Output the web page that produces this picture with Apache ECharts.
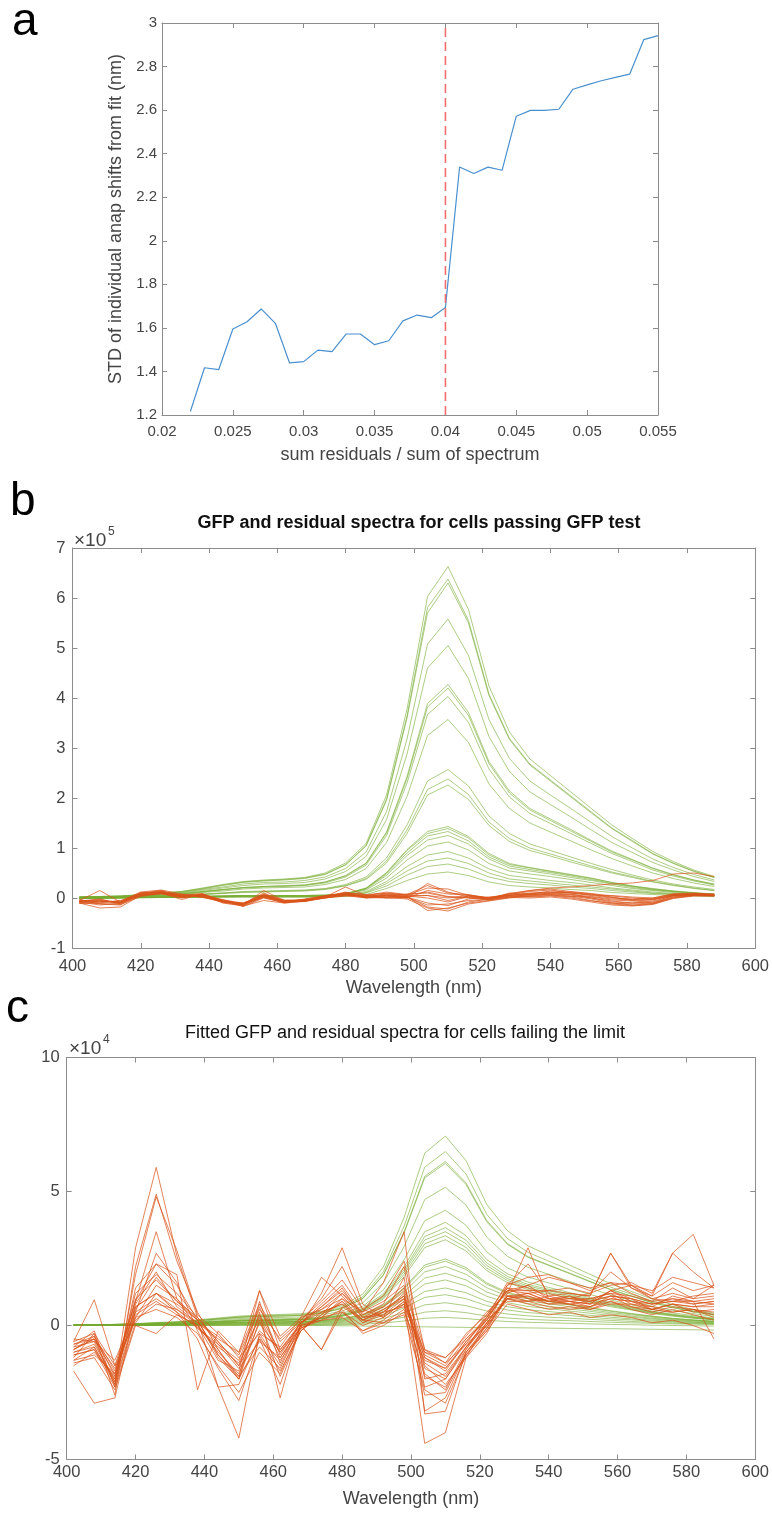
<!DOCTYPE html>
<html>
<head>
<meta charset="utf-8">
<script src="https://cdn.jsdelivr.net/npm/echarts@6/dist/echarts.min.js"></script>
<style>
  html, body { margin: 0; padding: 0; background: #ffffff; }
  #chart { width: 772px; height: 1515px; }
</style>
</head>
<body>
<div id="chart"></div>
<script>
// ---------- panel a: spread of anap shifts vs. residual fraction ----------
const residualRatio = [0.022,0.023,0.024,0.025,0.026,0.027,0.028,0.029,0.030,0.031,0.032,0.033,0.034,0.035,0.036,0.037,0.038,0.039,0.040,0.041,0.042,0.043,0.044,0.045,0.046,0.047,0.048,0.049,0.050,0.051,0.052,0.053,0.054,0.055];
const shiftStd = [1.216,1.417,1.408,1.595,1.628,1.687,1.621,1.439,1.445,1.498,1.491,1.572,1.572,1.523,1.541,1.632,1.659,1.647,1.694,2.339,2.309,2.338,2.324,2.572,2.599,2.599,2.604,2.696,2.716,2.735,2.750,2.765,2.924,2.942];
const ratioLimit = 0.04;
const ratioTicks = ['0.02','0.025','0.03','0.035','0.04','0.045','0.05','0.055'];
const stdTicks = ['1.2','1.4','1.6','1.8','2','2.2','2.4','2.6','2.8','3'];

// ---------- panels b and c: spectra on a shared wavelength grid ----------
const wavelength = [402,408,414,420,426,432,438,444,450,456,462,468,474,480,486,492,498,504,510,516,522,528,534,540,546,552,558,564,570,576,582,588];
const wavelengthTicks = ['400','420','440','460','480','500','520','540','560','580','600'];
const passTicks = ['-1','0','1','2','3','4','5','6','7'];
const failTicks = ['-5','0','5','10'];

// panel b, GFP spectra (units of 1e5)
const passGfp = [
  [0.02,0.03,0.04,0.07,0.1,0.13,0.2,0.27,0.33,0.36,0.38,0.41,0.5,0.7,1.09,2.06,3.78,6.03,6.63,5.77,4.24,3.32,2.78,2.45,2.12,1.79,1.46,1.19,0.93,0.73,0.56,0.43],
  [0.02,0.03,0.04,0.06,0.1,0.13,0.19,0.26,0.32,0.35,0.37,0.4,0.48,0.67,1.05,1.98,3.64,5.81,6.38,5.55,4.08,3.19,2.68,2.36,2.04,1.72,1.4,1.15,0.89,0.7,0.54,0.41],
  [0.02,0.03,0.04,0.06,0.09,0.12,0.18,0.25,0.31,0.34,0.36,0.39,0.47,0.66,1.04,1.95,3.6,5.7,6.3,5.5,4.05,3.17,2.66,2.34,2.02,1.7,1.39,1.13,0.88,0.69,0.53,0.41],
  [0.02,0.02,0.03,0.06,0.08,0.11,0.17,0.22,0.28,0.31,0.32,0.35,0.42,0.59,0.92,1.73,3.18,5.08,5.58,4.85,3.57,2.79,2.34,2.06,1.79,1.51,1.23,1.0,0.78,0.61,0.47,0.36],
  [0.02,0.02,0.03,0.05,0.08,0.1,0.15,0.2,0.25,0.28,0.29,0.31,0.38,0.53,0.83,1.57,2.88,4.6,5.05,4.39,3.23,2.53,2.12,1.87,1.62,1.36,1.11,0.91,0.71,0.56,0.43,0.33],
  [0.01,0.02,0.03,0.04,0.06,0.09,0.13,0.17,0.21,0.23,0.25,0.26,0.32,0.45,0.7,1.32,2.43,3.89,4.27,3.71,2.73,2.14,1.79,1.58,1.37,1.15,0.94,0.77,0.6,0.47,0.36,0.28],
  [0.01,0.02,0.03,0.04,0.06,0.08,0.13,0.17,0.21,0.23,0.24,0.26,0.32,0.44,0.69,1.3,2.39,3.82,4.2,3.65,2.69,2.1,1.76,1.55,1.34,1.13,0.92,0.76,0.59,0.46,0.36,0.27],
  [0.01,0.02,0.02,0.04,0.06,0.08,0.12,0.16,0.2,0.22,0.23,0.25,0.3,0.42,0.66,1.25,2.3,3.67,4.03,3.51,2.58,2.02,1.69,1.49,1.29,1.09,0.89,0.73,0.56,0.44,0.34,0.26],
  [0.01,0.01,0.02,0.04,0.05,0.07,0.11,0.14,0.18,0.2,0.21,0.22,0.27,0.37,0.59,1.11,2.03,3.25,3.57,3.11,2.28,1.79,1.5,1.32,1.14,0.96,0.79,0.64,0.5,0.39,0.3,0.23],
  [0.01,0.01,0.02,0.03,0.04,0.05,0.08,0.1,0.13,0.14,0.15,0.16,0.19,0.27,0.42,0.8,1.46,2.34,2.57,2.24,1.64,1.29,1.08,0.95,0.82,0.69,0.57,0.46,0.36,0.28,0.22,0.17],
  [0.01,0.01,0.01,0.02,0.04,0.05,0.07,0.1,0.12,0.13,0.14,0.15,0.18,0.25,0.39,0.74,1.36,2.17,2.38,2.07,1.52,1.19,1.0,0.88,0.76,0.64,0.52,0.43,0.33,0.26,0.2,0.15],
  [0.01,0.01,0.01,0.02,0.03,0.05,0.07,0.09,0.11,0.12,0.13,0.14,0.17,0.24,0.37,0.7,1.29,2.06,2.26,1.97,1.45,1.13,0.95,0.84,0.72,0.61,0.5,0.41,0.32,0.25,0.19,0.15],
  [0,0,0.01,0.01,0.02,0.03,0.04,0.04,0.05,0.05,0.05,0.05,0.06,0.09,0.2,0.51,0.97,1.33,1.43,1.23,0.89,0.69,0.61,0.54,0.47,0.4,0.31,0.24,0.19,0.14,0.11,0.08],
  [0,0,0.01,0.01,0.02,0.03,0.03,0.04,0.05,0.05,0.05,0.05,0.06,0.08,0.19,0.5,0.95,1.29,1.39,1.2,0.86,0.67,0.6,0.53,0.46,0.39,0.31,0.24,0.18,0.14,0.1,0.08],
  [0,0,0.01,0.01,0.02,0.03,0.03,0.04,0.05,0.05,0.05,0.05,0.05,0.08,0.19,0.48,0.9,1.24,1.33,1.14,0.82,0.64,0.57,0.51,0.44,0.37,0.29,0.23,0.17,0.13,0.1,0.07],
  [0,0,0.01,0.01,0.02,0.02,0.03,0.04,0.04,0.04,0.04,0.04,0.05,0.08,0.18,0.45,0.85,1.16,1.25,1.08,0.78,0.6,0.54,0.48,0.41,0.35,0.28,0.21,0.16,0.13,0.09,0.07],
  [0,0,0.01,0.01,0.02,0.02,0.03,0.03,0.04,0.04,0.04,0.04,0.04,0.07,0.16,0.4,0.76,1.04,1.12,0.96,0.69,0.54,0.48,0.43,0.37,0.31,0.25,0.19,0.15,0.11,0.08,0.06],
  [0,0,0,0.01,0.01,0.02,0.02,0.03,0.03,0.03,0.03,0.03,0.04,0.06,0.13,0.33,0.63,0.86,0.93,0.8,0.58,0.45,0.4,0.35,0.31,0.26,0.2,0.16,0.12,0.09,0.07,0.05],
  [0,0,0,0.01,0.01,0.02,0.02,0.02,0.03,0.03,0.03,0.03,0.03,0.05,0.11,0.29,0.54,0.74,0.8,0.69,0.5,0.38,0.34,0.3,0.26,0.22,0.18,0.14,0.1,0.08,0.06,0.04],
  [0,0,0,0.01,0.01,0.01,0.02,0.02,0.02,0.02,0.02,0.02,0.03,0.04,0.1,0.24,0.46,0.63,0.68,0.58,0.42,0.33,0.29,0.26,0.22,0.19,0.15,0.12,0.09,0.07,0.05,0.04],
  [0,0,0,0,0.01,0.01,0.01,0.02,0.02,0.02,0.02,0.02,0.02,0.03,0.07,0.19,0.35,0.48,0.52,0.45,0.32,0.25,0.22,0.2,0.17,0.15,0.11,0.09,0.07,0.05,0.04,0.03]
];

// panel b, residual spectra (units of 1e5)
const passResidual = [
  [-0.05,0.15,-0.08,0.1,0.12,0.04,0.06,-0.06,-0.12,0.02,-0.07,-0.04,0.03,0.08,0.02,0.05,0.0,0.29,0.12,0.02,-0.02,0.05,0.1,0.12,0.1,0.05,0.0,-0.02,0.0,0.08,0.1,0.06],
  [-0.1,-0.2,-0.18,0.05,0.1,-0.03,0.08,-0.1,-0.16,-0.05,-0.1,-0.06,0.0,0.06,0.0,0.02,0.03,-0.25,-0.2,-0.1,-0.05,0.02,0.03,0.05,0.02,-0.05,-0.12,-0.15,-0.12,0.0,0.05,0.04],
  [-0.08,-0.05,-0.1,0.08,0.13,0.05,0.04,-0.05,-0.14,0.15,-0.05,-0.03,0.02,0.22,0.05,0.1,0.06,0.2,0.18,0.05,0.0,0.08,0.15,0.2,0.22,0.25,0.28,0.3,0.35,0.48,0.5,0.43],
  [-0.04,-0.08,-0.06,0.12,0.16,0.08,0.02,-0.08,-0.1,0.05,-0.08,-0.05,0.04,0.1,0.06,0.0,0.02,-0.1,-0.15,-0.02,0.02,0.06,0.05,0.08,0.06,0.0,-0.08,-0.1,-0.08,0.05,0.08,0.07],
  [-0.06,-0.02,-0.12,0.06,0.09,0.0,0.07,-0.04,-0.17,0.0,-0.09,-0.02,0.05,0.07,0.03,0.08,0.05,0.05,-0.05,0.04,-0.03,0.02,0.08,0.14,0.12,0.08,0.02,-0.05,-0.1,0.03,0.06,0.05],
  [-0.09,-0.1,-0.05,0.04,0.11,0.07,0.05,-0.03,-0.13,0.03,-0.06,-0.07,0.01,0.05,0.04,0.03,0.08,0.1,0.02,0.0,-0.04,0.04,0.02,0.04,0.0,-0.06,-0.1,-0.12,-0.1,0.02,0.06,0.05],
  [-0.07,-0.06,-0.09,0.09,0.14,0.02,0.08,-0.07,-0.11,0.08,-0.04,-0.06,0.03,0.12,0.0,0.06,0.02,-0.18,-0.22,-0.08,-0.02,0.1,0.07,0.06,0.03,0.02,-0.04,-0.06,-0.04,0.06,0.07,0.06],
  [-0.03,-0.12,-0.14,0.07,0.08,0.03,0.03,-0.09,-0.15,0.06,-0.09,-0.03,0.04,0.09,0.02,0.04,0.0,0.15,0.08,0.06,0.01,0.07,0.13,0.16,0.1,0.06,0.05,0.02,0.0,0.08,0.09,0.08],
  [-0.11,-0.08,-0.07,0.11,0.1,0.06,0.01,-0.06,-0.13,0.1,-0.07,-0.05,0.0,0.08,0.03,0.07,0.04,0.0,-0.08,0.03,0.0,0.03,0.06,0.1,0.08,0.0,-0.06,-0.1,-0.06,0.04,0.07,0.06],
  [-0.06,-0.04,-0.11,0.1,0.15,0.04,0.06,-0.08,-0.14,0.04,-0.08,-0.04,0.02,0.1,0.05,0.12,0.07,0.25,0.1,0.07,-0.01,0.06,0.09,0.11,0.11,0.07,0.01,-0.03,-0.02,0.07,0.08,0.07],
  [-0.08,-0.14,-0.1,0.05,0.12,0.01,0.07,-0.05,-0.12,0.07,-0.06,-0.06,0.03,0.07,0.01,0.01,-0.02,-0.2,-0.26,-0.12,-0.06,0.0,0.04,0.07,0.04,-0.02,-0.1,-0.14,-0.11,0.01,0.05,0.05],
  [-0.05,-0.07,-0.08,0.08,0.11,0.03,0.05,-0.04,-0.1,0.05,-0.05,-0.04,0.02,0.06,0.04,0.05,0.03,0.05,0.0,0.05,0.0,0.05,0.08,0.09,0.07,0.03,-0.02,-0.04,-0.03,0.05,0.07,0.06],
  [-0.07,-0.03,-0.09,0.07,0.13,0.06,0.09,-0.06,-0.16,0.02,-0.08,-0.05,0.01,0.11,0.07,0.09,0.06,0.12,0.03,0.01,-0.02,0.09,0.15,0.18,0.13,0.09,0.04,0.0,-0.02,0.05,0.07,0.06],
  [-0.1,-0.11,-0.13,0.03,0.09,0.02,0.04,-0.07,-0.12,0.01,-0.1,-0.07,0.0,0.04,0.01,0.0,0.01,-0.14,-0.12,-0.05,-0.03,0.01,0.0,0.02,-0.02,-0.08,-0.14,-0.16,-0.13,-0.01,0.04,0.04]
];

// panel c, fitted GFP spectra (units of 1e4)
const failGfp = [
  [0.02,0.03,0.04,0.07,0.11,0.14,0.21,0.28,0.35,0.39,0.41,0.44,0.53,0.74,1.17,2.19,4.03,6.43,7.07,6.15,4.52,3.54,2.97,2.62,2.26,1.91,1.56,1.27,0.99,0.78,0.6,0.46],
  [0.02,0.03,0.04,0.06,0.1,0.13,0.19,0.26,0.32,0.36,0.38,0.4,0.49,0.68,1.07,2.01,3.7,5.91,6.49,5.65,4.15,3.25,2.73,2.4,2.08,1.75,1.43,1.17,0.91,0.71,0.55,0.42],
  [0.02,0.02,0.04,0.06,0.09,0.12,0.18,0.24,0.31,0.34,0.35,0.38,0.46,0.64,1.01,1.9,3.49,5.57,6.12,5.32,3.92,3.06,2.57,2.26,1.96,1.65,1.35,1.1,0.86,0.67,0.52,0.4],
  [0.02,0.02,0.04,0.06,0.09,0.12,0.18,0.24,0.3,0.33,0.35,0.38,0.45,0.64,1.0,1.88,3.45,5.51,6.05,5.26,3.87,3.03,2.54,2.24,1.94,1.63,1.33,1.09,0.85,0.67,0.51,0.39],
  [0.02,0.02,0.03,0.05,0.08,0.1,0.15,0.21,0.26,0.28,0.3,0.32,0.39,0.54,0.85,1.6,2.94,4.7,5.16,4.49,3.3,2.58,2.17,1.91,1.65,1.39,1.14,0.93,0.72,0.57,0.44,0.34],
  [0.01,0.02,0.03,0.04,0.06,0.09,0.13,0.17,0.22,0.24,0.25,0.27,0.32,0.45,0.71,1.33,2.45,3.91,4.3,3.74,2.75,2.15,1.81,1.59,1.38,1.16,0.95,0.77,0.6,0.47,0.37,0.28],
  [0.01,0.02,0.02,0.04,0.06,0.08,0.12,0.15,0.19,0.21,0.22,0.24,0.29,0.4,0.64,1.19,2.19,3.5,3.85,3.35,2.46,1.93,1.62,1.42,1.23,1.04,0.85,0.69,0.54,0.42,0.33,0.25],
  [0.01,0.01,0.02,0.04,0.05,0.07,0.11,0.15,0.18,0.2,0.21,0.23,0.27,0.38,0.6,1.13,2.08,3.32,3.65,3.18,2.34,1.83,1.53,1.35,1.17,0.99,0.8,0.66,0.51,0.4,0.31,0.24],
  [0.01,0.01,0.02,0.04,0.05,0.07,0.11,0.14,0.18,0.19,0.2,0.22,0.26,0.37,0.58,1.09,2.0,3.19,3.5,3.05,2.24,1.75,1.47,1.3,1.12,0.95,0.77,0.63,0.49,0.39,0.3,0.23],
  [0.01,0.01,0.02,0.03,0.05,0.07,0.1,0.13,0.17,0.18,0.19,0.21,0.25,0.35,0.55,1.04,1.91,3.05,3.35,2.91,2.14,1.68,1.41,1.24,1.07,0.9,0.74,0.6,0.47,0.37,0.28,0.22],
  [0.01,0.01,0.02,0.03,0.05,0.06,0.1,0.13,0.16,0.18,0.19,0.2,0.24,0.34,0.53,0.99,1.82,2.91,3.2,2.78,2.05,1.6,1.34,1.18,1.02,0.86,0.7,0.58,0.45,0.35,0.27,0.21],
  [0.01,0.01,0.01,0.02,0.04,0.05,0.07,0.1,0.12,0.14,0.14,0.15,0.19,0.26,0.41,0.77,1.41,2.26,2.48,2.16,1.59,1.24,1.04,0.92,0.79,0.67,0.55,0.45,0.35,0.27,0.21,0.16],
  [0.01,0.01,0.01,0.02,0.04,0.05,0.07,0.1,0.12,0.13,0.14,0.15,0.18,0.25,0.4,0.74,1.37,2.18,2.4,2.09,1.54,1.2,1.01,0.89,0.77,0.65,0.53,0.43,0.34,0.26,0.2,0.16],
  [0.01,0.01,0.01,0.02,0.03,0.04,0.07,0.09,0.11,0.12,0.13,0.14,0.17,0.23,0.36,0.68,1.25,2.0,2.2,1.91,1.41,1.1,0.92,0.81,0.7,0.59,0.48,0.4,0.31,0.24,0.19,0.14],
  [0.01,0.01,0.01,0.02,0.03,0.04,0.06,0.08,0.1,0.11,0.11,0.12,0.15,0.2,0.32,0.6,1.11,1.77,1.95,1.7,1.25,0.98,0.82,0.72,0.62,0.53,0.43,0.35,0.27,0.21,0.17,0.13],
  [0.01,0.01,0.01,0.02,0.03,0.03,0.05,0.07,0.09,0.09,0.1,0.11,0.13,0.18,0.28,0.53,0.97,1.55,1.7,1.48,1.09,0.85,0.71,0.63,0.54,0.46,0.37,0.31,0.24,0.19,0.14,0.11],
  [0,0.01,0.01,0.01,0.02,0.03,0.04,0.06,0.07,0.08,0.08,0.09,0.11,0.15,0.23,0.43,0.8,1.27,1.4,1.22,0.9,0.7,0.59,0.52,0.45,0.38,0.31,0.25,0.2,0.15,0.12,0.09],
  [0,0,0.01,0.01,0.02,0.02,0.03,0.05,0.06,0.06,0.07,0.07,0.09,0.12,0.19,0.36,0.66,1.05,1.15,1.0,0.74,0.58,0.48,0.43,0.37,0.31,0.25,0.21,0.16,0.13,0.1,0.07],
  [0,0,0.01,0.01,0.01,0.02,0.03,0.03,0.04,0.05,0.05,0.05,0.06,0.09,0.14,0.26,0.48,0.77,0.85,0.74,0.54,0.43,0.36,0.31,0.27,0.23,0.19,0.15,0.12,0.09,0.07,0.06],
  [0,0,0,0.01,0.01,0.01,0.02,0.02,0.03,0.03,0.03,0.03,0.04,0.06,0.09,0.17,0.31,0.5,0.55,0.48,0.35,0.28,0.23,0.2,0.18,0.15,0.12,0.1,0.08,0.06,0.05,0.04],
  [0,0,0,0,0.01,0.01,0.01,0.01,0.02,0.02,0.02,0.02,0.02,0.03,0.05,0.09,0.17,0.27,0.3,0.26,0.19,0.15,0.12,0.1,0.08,0.06,0.04,0.03,0.01,0.0,-0.01,-0.02],
  [0,0,0,0,0,0,0,0,0,0,0,0,0,-0.01,-0.02,-0.03,-0.04,-0.05,-0.06,-0.07,-0.08,-0.08,-0.09,-0.1,-0.11,-0.12,-0.12,-0.13,-0.14,-0.15,-0.16,-0.17]
];

// panel c, residual spectra (units of 1e4)
const failResidual = [
  [-0.9,-0.5,-2.2,2.9,5.9,2.6,0.3,-0.6,-1.5,0.4,-1.0,0.1,0.8,1.5,0.4,0.8,2.2,-2.0,-1.8,-0.8,0.2,1.4,1.0,0.9,1.1,0.8,1.3,1.0,0.6,0.8,0.5,0.6],
  [-1.2,-0.3,-2.6,2.2,4.9,2.4,0.5,-0.9,-1.9,0.9,-1.4,0.2,1.0,2.2,0.6,0.3,1.8,-3.2,-2.7,-1.0,0.0,1.5,2.3,1.2,1.0,1.2,2.0,1.4,1.1,1.6,1.3,1.5],
  [-0.8,-0.2,-2.3,1.9,4.8,2.8,0.4,-0.3,-1.2,-0.3,-0.8,0.3,0.6,1.0,0.2,0.6,1.1,-1.5,-2.2,-1.2,-0.3,1.1,1.2,0.9,0.9,0.7,1.0,0.9,0.7,0.5,0.6,0.4],
  [-0.6,0.96,-1.5,0.9,3.5,1.0,0.2,-1.1,-2.0,0.2,-1.9,-0.2,0.4,1.2,0.5,0.9,1.5,-0.9,-1.2,-0.5,0.3,1.3,1.5,1.8,1.6,1.4,1.6,1.2,0.9,1.4,1.0,1.1],
  [-1.5,-1.0,-1.9,0.5,2.7,1.6,-0.2,-1.6,-2.8,-0.5,-2.2,0.0,-0.9,0.5,-0.2,0.2,0.8,-1.2,-1.6,-0.7,0.0,1.0,0.8,0.6,0.7,0.6,0.9,0.6,0.4,0.6,0.4,0.2],
  [-1.0,-0.7,-2.0,0.8,2.0,0.7,0.1,-0.5,-1.0,0.8,-0.6,0.1,0.5,0.8,0.1,0.5,0.7,-1.0,-1.2,-0.4,0.5,1.2,2.9,1.0,0.9,0.8,1.3,0.9,0.8,1.0,0.8,0.9],
  [-0.7,-0.5,-1.6,0.3,1.5,1.0,-0.1,-0.8,-1.4,0.3,-1.2,0.0,1.2,2.9,0.8,0.3,0.9,-4.4,-4.0,-1.2,0.1,1.0,1.2,0.9,0.8,0.9,1.1,0.7,0.6,0.8,0.7,0.7],
  [-1.1,-0.9,-2.3,0.1,1.2,0.6,0.0,-1.0,-1.8,0.1,-1.0,-0.1,0.3,1.0,0.5,1.6,3.5,-3.3,-3.2,-1.0,-0.2,1.2,1.5,1.0,1.1,0.9,1.3,1.5,1.0,0.9,1.1,1.2],
  [-0.5,-0.6,-1.3,0.5,1.0,0.5,-0.5,-2.3,-4.2,-0.3,-1.5,0.0,0.2,0.6,-0.3,0.0,0.5,-1.3,-1.6,-0.6,0.2,0.9,0.9,0.7,0.6,0.7,0.9,0.7,0.5,0.7,0.6,0.5],
  [-1.7,-2.9,-2.7,0.6,1.8,0.9,0.2,-1.2,-2.0,0.5,-2.7,0.1,0.7,1.3,0.4,0.7,1.3,-1.8,-2.4,-0.9,0.3,1.6,1.4,1.1,1.2,1.1,2.7,1.4,1.0,1.2,1.0,1.5],
  [-0.9,-0.4,-1.7,0.9,2.3,1.9,-2.4,-0.2,-1.0,1.3,-0.4,0.3,1.8,1.1,0.3,0.4,1.0,-1.0,-1.4,-0.7,0.4,1.3,1.2,1.3,1.4,1.2,1.5,1.6,1.2,2.7,3.4,1.5],
  [-1.3,-1.1,-1.8,0.7,1.2,0.8,0.2,-2.3,-2.2,-0.4,-1.7,-0.2,0.5,0.8,0.2,0.1,0.4,-2.4,-2.9,-1.1,-0.1,1.1,1.0,0.8,0.8,0.6,0.8,0.8,0.6,0.5,0.6,0.3],
  [-0.8,-0.6,-2.1,0.4,0.9,0.4,0.0,-1.3,-1.7,1.3,-0.9,0.0,-0.9,0.7,0.2,0.6,1.0,-1.6,-2.0,-0.8,0.1,1.0,0.9,1.1,0.9,1.0,1.2,0.8,0.7,1.1,0.9,0.8],
  [-0.6,-0.3,-1.5,0.2,0.8,0.6,0.1,-0.4,-1.1,0.6,-0.5,0.2,0.9,1.7,0.6,1.1,2.4,-0.9,-1.4,-0.3,0.4,1.5,1.8,1.9,1.6,1.3,1.6,1.5,1.3,1.8,1.6,1.4],
  [-1.0,-0.8,-2.2,0.3,0.6,0.3,-0.3,-1.5,-2.5,-1.0,-1.8,-0.1,0.2,0.3,-0.2,0.1,0.6,-1.9,-2.3,-1.1,-0.2,0.8,0.6,0.4,0.5,0.3,0.4,0.3,0.1,0.2,0.0,-0.3],
  [-0.7,-0.4,-1.9,1.2,1.9,1.2,0.3,-0.7,-1.3,0.7,-1.1,0.1,0.7,1.4,0.3,0.5,1.1,-1.2,-1.7,-0.6,0.3,1.3,1.3,1.3,1.2,1.1,2.7,1.5,1.1,2.7,2.0,1.4],
  [-1.4,-1.2,-2.4,0.0,-0.3,0.4,0.0,-0.9,-2.0,-0.5,-1.3,-0.2,0.4,0.9,0.1,0.4,0.8,-2.6,-2.5,-1.0,-0.1,1.1,0.9,1.0,0.8,0.7,1.1,1.0,0.8,0.9,0.8,0.9],
  [-1.1,-0.9,-2.0,0.7,1.2,0.5,-0.1,-0.7,-1.6,-0.6,-1.2,-0.1,0.3,0.5,0.0,0.3,0.9,-1.4,-1.9,-0.8,0.0,1.0,1.1,0.8,0.9,0.8,1.0,0.9,0.6,0.8,0.7,0.8],
  [-0.9,-0.5,-1.8,1.0,1.7,0.9,0.3,-0.6,-1.5,-0.2,-0.9,0.1,0.6,1.2,0.3,0.7,1.4,-1.1,-1.5,-0.5,0.2,1.4,1.3,1.0,1.0,1.0,1.2,1.1,0.9,1.0,0.9,1.0],
  [-1.3,-0.8,-2.1,1.4,2.3,1.5,0.2,-1.1,-1.9,-0.8,-1.6,0.0,0.3,0.9,0.2,0.5,1.2,-2.3,-2.0,-0.9,0.1,1.1,1.1,0.9,1.0,0.9,1.1,1.0,0.8,0.9,0.9,-0.5]
];

// ---------- styling ----------
const FONT = '"Liberation Sans", Arial, Helvetica, sans-serif';
const AXIS_COLOR = '#8c8c8c';
const TEXT_COLOR = '#444444';
const GREEN = 'rgba(119,172,48,0.6)';
const ORANGE = 'rgba(217,83,25,0.72)';

// one framed box: bottom/left axes with labels, top/right axes as frame only
function boxAxes(grid, x, y) {
  const line = { show: true, onZero: false, lineStyle: { color: AXIS_COLOR, width: 1 } };
  const tick = { show: true, inside: true, length: 5, lineStyle: { color: AXIS_COLOR } };
  const pick = (labels, min, step) => (v) => {
    const k = Math.round((v - min) / step);
    return labels[k] !== undefined ? labels[k] : '';
  };
  const xs = [
    {
      gridIndex: grid, type: 'value', position: 'bottom',
      min: x.min, max: x.max, interval: x.step,
      axisLine: line, axisTick: tick, splitLine: { show: false },
      axisLabel: { color: TEXT_COLOR, fontFamily: FONT, fontSize: x.fontSize, margin: x.margin,
                   formatter: pick(x.labels, x.min, x.step) },
      name: x.name, nameLocation: 'middle', nameGap: x.nameGap,
      nameTextStyle: { color: TEXT_COLOR, fontFamily: FONT, fontSize: 18 }
    },
    {
      gridIndex: grid, type: 'value', position: 'top',
      min: x.min, max: x.max, interval: x.step,
      axisLine: line, axisTick: tick, splitLine: { show: false }, axisLabel: { show: false }
    }
  ];
  const ys = [
    {
      gridIndex: grid, type: 'value', position: 'left',
      min: y.min, max: y.max, interval: y.step,
      axisLine: line, axisTick: tick, splitLine: { show: false },
      axisLabel: { color: TEXT_COLOR, fontFamily: FONT, fontSize: y.fontSize, margin: y.margin,
                   formatter: pick(y.labels, y.min, y.step) },
      name: y.name || '', nameLocation: 'middle', nameGap: y.nameGap || 0, nameRotate: 90,
      nameTextStyle: { color: TEXT_COLOR, fontFamily: FONT, fontSize: 18 }
    },
    {
      gridIndex: grid, type: 'value', position: 'right',
      min: y.min, max: y.max, interval: y.step,
      axisLine: line, axisTick: tick, splitLine: { show: false }, axisLabel: { show: false }
    }
  ];
  return { xs, ys };
}

const boxA = boxAxes(0,
  { min: 0.02, max: 0.055, step: 0.005, labels: ratioTicks, fontSize: 15, margin: 9,
    name: 'sum residuals / sum of spectrum', nameGap: 31 },
  { min: 1.2, max: 3, step: 0.2, labels: stdTicks, fontSize: 15, margin: 5,
    name: 'STD of individual anap shifts from fit (nm)', nameGap: 31 });
const boxB = boxAxes(1,
  { min: 400, max: 600, step: 20, labels: wavelengthTicks, fontSize: 16.5, margin: 10,
    name: 'Wavelength (nm)', nameGap: 31 },
  { min: -1, max: 7, step: 1, labels: passTicks, fontSize: 16.5, margin: 7 });
const boxC = boxAxes(2,
  { min: 400, max: 600, step: 20, labels: wavelengthTicks, fontSize: 16.5, margin: 4,
    name: 'Wavelength (nm)', nameGap: 31 },
  { min: -5, max: 10, step: 5, labels: failTicks, fontSize: 16.5, margin: 7 });

// spectra drawn on the shared wavelength grid
function spectra(list, color, axisIndex) {
  return list.map((vals) => ({
    type: 'line', xAxisIndex: axisIndex, yAxisIndex: axisIndex,
    data: wavelength.map((w, i) => [w, vals[i]]),
    symbol: 'none', showSymbol: false, silent: true,
    lineStyle: { color: color, width: 1 }
  }));
}

const series = [
  {
    type: 'line', xAxisIndex: 0, yAxisIndex: 0,
    data: residualRatio.map((r, i) => [r, shiftStd[i]]),
    symbol: 'none', showSymbol: false, silent: true,
    lineStyle: { color: '#4a90cf', width: 1.2 }
  },
  {
    type: 'line', xAxisIndex: 0, yAxisIndex: 0,
    data: [[ratioLimit, 1.2], [ratioLimit, 3]],
    symbol: 'none', showSymbol: false, silent: true,
    lineStyle: { color: '#f06e6e', width: 1.6, type: [9, 5] }
  },
  ...spectra(passGfp, GREEN, 2),
  ...spectra(passResidual, ORANGE, 2),
  ...spectra(failGfp, GREEN, 4),
  ...spectra(failResidual, ORANGE, 4)
];

function label(text, x, y, size, opts) {
  return {
    type: 'text', x: x, y: y, silent: true,
    style: Object.assign({
      text: text, fill: '#000000', fontFamily: FONT, fontSize: size,
      textAlign: 'left', textVerticalAlign: 'middle'
    }, opts || {})
  };
}

const chart = echarts.init(document.getElementById('chart'), null, { renderer: 'canvas' });
chart.setOption({
  animation: false,
  backgroundColor: '#ffffff',
  grid: [
    { left: 162, top: 23, width: 496, height: 392 },
    { left: 72.5, top: 548, width: 685, height: 400 },
    { left: 66.7, top: 1057.5, width: 693, height: 402 }
  ],
  xAxis: [...boxA.xs, ...boxB.xs, ...boxC.xs],
  yAxis: [...boxA.ys, ...boxB.ys, ...boxC.ys],
  series: series,
  graphic: [
    label('a', 12, 22, 46),
    label('b', 10, 502, 46),
    label('c', 6, 1009, 46),
    label('GFP and residual spectra for cells passing GFP test', 419, 523, 18,
      { textAlign: 'center', fontWeight: 'bold', fill: '#111111' }),
    label('Fitted GFP and residual spectra for cells failing the limit', 405, 1033, 18,
      { textAlign: 'center', fill: '#111111' }),
    label('\u00d710', 74, 541, 19, { fill: TEXT_COLOR }),
    label('5', 108, 532, 12, { fill: TEXT_COLOR }),
    label('\u00d710', 69, 1049, 19, { fill: TEXT_COLOR }),
    label('4', 103, 1040, 12, { fill: TEXT_COLOR })
  ]
});
</script>
</body>
</html>
